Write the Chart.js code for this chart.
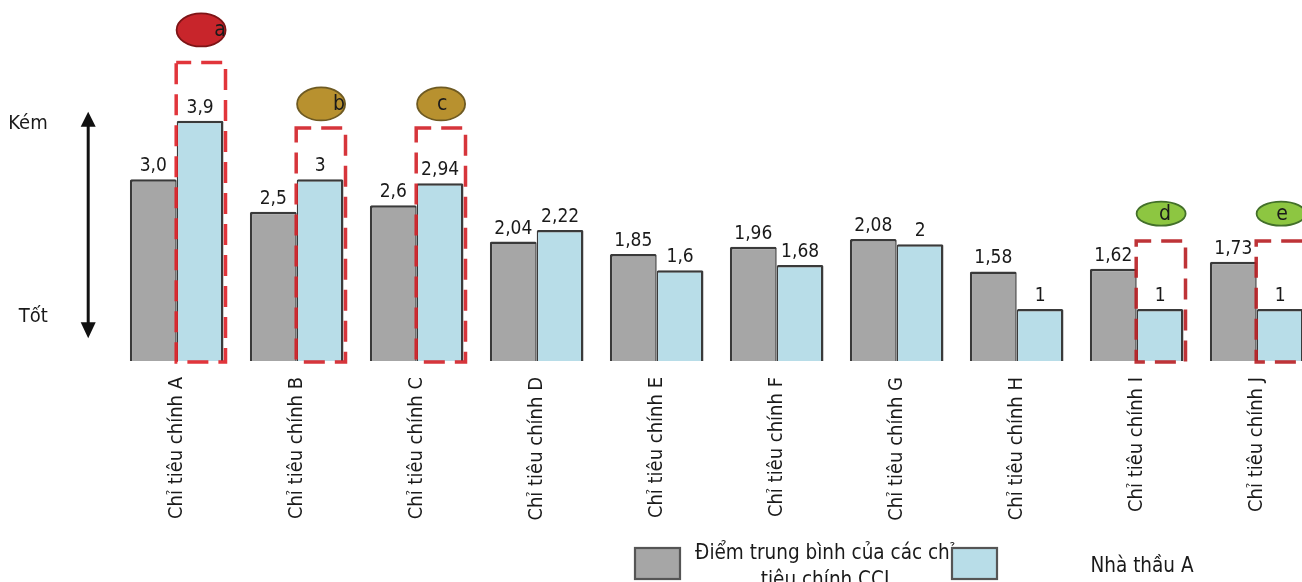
<!DOCTYPE html>
<html lang="vi">
<head>
<meta charset="utf-8">
<title>Chỉ tiêu chính – Nhà thầu A</title>
<script src="https://cdn.jsdelivr.net/npm/chart.js@4.4.1/dist/chart.umd.min.js"></script>
<style>
  html, body { margin: 0; padding: 0; background: #ffffff; overflow: hidden; }
  #wrap { width: 1320px; height: 582px; }
</style>
</head>
<body>
<div id="wrap"><canvas id="chart" width="1320" height="582"></canvas></div>
<script>
// ---- data ----
const categories = [
  'Chỉ tiêu chính A', 'Chỉ tiêu chính B', 'Chỉ tiêu chính C', 'Chỉ tiêu chính D',
  'Chỉ tiêu chính E', 'Chỉ tiêu chính F', 'Chỉ tiêu chính G', 'Chỉ tiêu chính H',
  'Chỉ tiêu chính I', 'Chỉ tiêu chính J'
];
const averageScores = [3.0, 2.5, 2.6, 2.04, 1.85, 1.96, 2.08, 1.58, 1.62, 1.73];
const contractorScores = [3.9, 3, 2.94, 2.22, 1.6, 1.68, 2, 1, 1, 1];
const seriesNames = [
  ['Điểm trung bình của các chỉ', 'tiêu chính CCI'],
  ['Nhà thầu A']
];

// highlighted contractor bars: category index, tag letter, box top and tag centre (score units)
const highlightIndex = [0, 1, 2, 8, 9];
const highlightTags = ['a', 'b', 'c', 'd', 'e'];
const highlightBoxTop = [4.80, 3.79, 3.79, 2.05, 2.05];
const highlightTagCentre = [5.30, 4.16, 4.16, 2.47, 2.47];

// vertical guide: "Kém" (poor) at the top, "Tốt" (good) at the bottom
const guideLabels = ['Kém', 'Tốt'];
const guideLabelAt = [3.78, 0.80];
const guideArrowFrom = 0.55;
const guideArrowTo = 4.04;

// ---- styles ----
const FONT = "'Liberation Sans Narrow', 'Arial Narrow', 'DejaVu Sans Condensed', sans-serif";
const TEXT = '#1a1a1a';
const GREY = '#a6a6a6';
const BLUE = '#b8dde8';
const EDGE = '#3a3a3a';
const tagStyle = {
  a: { fill: '#c8252b', stroke: '#7d1416', rx: 24.5, ry: 16.5, dx: 20, frame: 'rgba(222, 36, 42, 0.92)' },
  b: { fill: '#b8912f', stroke: '#6e5a22', rx: 24, ry: 16.5, dx: 19, frame: 'rgba(210, 36, 42, 0.92)' },
  c: { fill: '#b8912f', stroke: '#6e5a22', rx: 24, ry: 16.5, dx: 2, frame: 'rgba(210, 36, 42, 0.92)' },
  d: { fill: '#8dc641', stroke: '#43702a', rx: 24.5, ry: 12, dx: 5, frame: 'rgba(185, 34, 38, 0.92)' },
  e: { fill: '#8dc641', stroke: '#43702a', rx: 24.5, ry: 12, dx: 2, frame: 'rgba(185, 34, 38, 0.92)' }
};

const fmtAverage = v => (Number.isInteger(v) ? v.toFixed(1) : String(v)).replace('.', ',');
const fmtContractor = v => String(v).replace('.', ',');
const formatters = [fmtAverage, fmtContractor];

// value labels above each bar
const valueLabels = {
  id: 'valueLabels',
  afterDatasetsDraw(chart) {
    const ctx = chart.ctx;
    ctx.save();
    ctx.font = '19px ' + FONT;
    ctx.fillStyle = TEXT;
    ctx.textAlign = 'center';
    ctx.textBaseline = 'alphabetic';
    chart.data.datasets.forEach((ds, di) => {
      chart.getDatasetMeta(di).data.forEach((bar, i) => {
        ctx.fillText(formatters[di](ds.data[i]), bar.x, bar.y - 8);
      });
    });
    ctx.restore();
  }
};

// red dashed frames and lettered tags over selected contractor bars
const highlights = {
  id: 'highlights',
  afterDatasetsDraw(chart) {
    const ctx = chart.ctx;
    const y = chart.scales.y;
    const meta = chart.getDatasetMeta(1);
    ctx.save();
    highlightIndex.forEach((idx, k) => {
      const bar = meta.data[idx];
      const letter = highlightTags[k];
      const st = tagStyle[letter];
      const left = bar.x - bar.width / 2 - 0.5;
      const right = bar.x + bar.width / 2 + 2;
      const top = y.getPixelForValue(highlightBoxTop[k]);
      const bottom = chart.chartArea.bottom + 1;
      ctx.setLineDash([21, 10]);
      ctx.lineDashOffset = 6;
      ctx.lineWidth = 3.5;
      ctx.strokeStyle = st.frame;
      ctx.strokeRect(left, top, right - left, bottom - top);

      const cy = y.getPixelForValue(highlightTagCentre[k]);
      ctx.setLineDash([]);
      ctx.beginPath();
      ctx.ellipse(bar.x + 1, cy, st.rx, st.ry, 0, 0, Math.PI * 2);
      ctx.fillStyle = st.fill;
      ctx.fill();
      ctx.lineWidth = 1.8;
      ctx.strokeStyle = st.stroke;
      ctx.stroke();
      ctx.font = '21px ' + FONT;
      ctx.fillStyle = TEXT;
      ctx.textAlign = 'center';
      ctx.textBaseline = 'middle';
      ctx.fillText(letter, bar.x + st.dx, cy + 1);
    });
    ctx.restore();
  }
};

// double-headed arrow with "Kém" / "Tốt" on the left
const guide = {
  id: 'guide',
  afterDraw(chart) {
    const ctx = chart.ctx;
    const y = chart.scales.y;
    const ax = chart.chartArea.left - 28.5;
    const yTop = y.getPixelForValue(guideArrowTo);
    const yBot = y.getPixelForValue(guideArrowFrom);
    ctx.save();
    ctx.strokeStyle = '#111';
    ctx.fillStyle = '#111';
    ctx.lineWidth = 3;
    ctx.beginPath();
    ctx.moveTo(ax, yTop + 10);
    ctx.lineTo(ax, yBot - 10);
    ctx.stroke();
    ctx.beginPath();
    ctx.moveTo(ax, yTop);
    ctx.lineTo(ax - 7.5, yTop + 15);
    ctx.lineTo(ax + 7.5, yTop + 15);
    ctx.closePath();
    ctx.fill();
    ctx.beginPath();
    ctx.moveTo(ax, yBot);
    ctx.lineTo(ax - 7.5, yBot - 16);
    ctx.lineTo(ax + 7.5, yBot - 16);
    ctx.closePath();
    ctx.fill();
    ctx.font = '20px ' + FONT;
    ctx.fillStyle = TEXT;
    ctx.textAlign = 'right';
    ctx.textBaseline = 'alphabetic';
    guideLabels.forEach((t, i) => {
      ctx.fillText(t, chart.chartArea.left - 69, y.getPixelForValue(guideLabelAt[i]));
    });
    ctx.restore();
  }
};

// legend along the bottom edge
const bottomLegend = {
  id: 'bottomLegend',
  afterDraw(chart) {
    const ctx = chart.ctx;
    ctx.save();
    chart.data.datasets.forEach((ds, i) => {
      const bx = 635 + 317 * i;
      const by = 548;
      ctx.fillStyle = ds.backgroundColor;
      ctx.fillRect(bx, by, 45, 31);
      ctx.lineWidth = 2.2;
      ctx.strokeStyle = '#555';
      ctx.strokeRect(bx, by, 45, 31);
      const lines = seriesNames[i];
      const cx = bx + 45 + 145;
      const lh = 27;
      const firstBase = 572 - (lines.length - 1) * lh / 2;
      ctx.font = '20.5px ' + FONT;
      ctx.fillStyle = TEXT;
      ctx.textAlign = 'center';
      ctx.textBaseline = 'alphabetic';
      lines.forEach((ln, j) => ctx.fillText(ln, cx, firstBase + j * lh));
    });
    ctx.restore();
  }
};

new Chart(document.getElementById('chart'), {
  type: 'bar',
  data: {
    labels: categories,
    datasets: [
      {
        label: seriesNames[0].join(' '),
        data: averageScores,
        backgroundColor: GREY,
        borderColor: EDGE,
        borderWidth: { top: 2.5, left: 2.5, bottom: 2.5, right: 1.5 },
        borderSkipped: false,
        borderRadius: 1.5
      },
      {
        label: seriesNames[1].join(' '),
        data: contractorScores,
        backgroundColor: BLUE,
        borderColor: EDGE,
        borderWidth: { top: 2.5, left: 1.5, bottom: 2.5, right: 2.5 },
        borderSkipped: false,
        borderRadius: 1.5
      }
    ]
  },
  options: {
    responsive: false,
    animation: false,
    devicePixelRatio: 1,
    layout: { padding: { left: 116.7, right: 3.3, top: 4, bottom: 0 } },
    datasets: { bar: { categoryPercentage: 0.78, barPercentage: 1 } },
    plugins: { legend: { display: false }, tooltip: { enabled: false } },
    scales: {
      x: {
        grid: { display: false },
        border: { display: false },
        ticks: {
          autoSkip: false,
          minRotation: 90,
          maxRotation: 90,
          padding: 8,
          color: TEXT,
          font: { family: FONT, size: 20 }
        },
        afterFit(scale) { scale.height = 221; }
      },
      y: { display: false, min: 0.2, max: 5.7 }
    }
  },
  plugins: [valueLabels, highlights, guide, bottomLegend]
});
</script>
</body>
</html>
